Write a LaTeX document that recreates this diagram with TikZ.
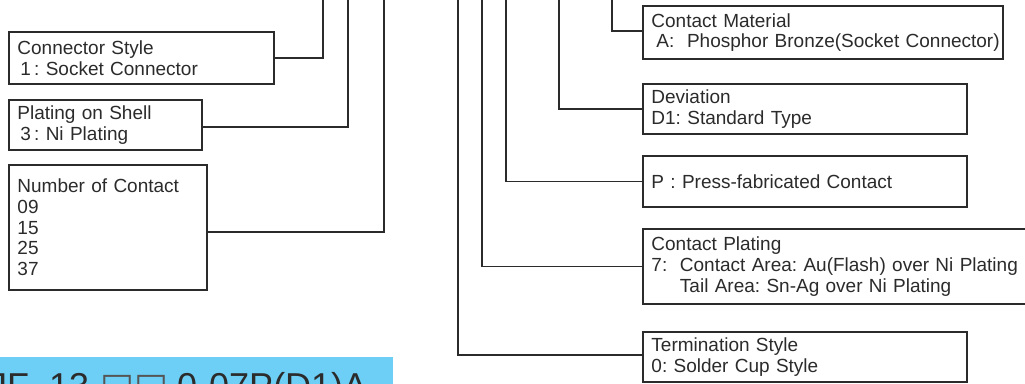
\documentclass[tikz,border=0pt]{standalone}
\usepackage{fontspec}
\setmainfont{Liberation Sans}
\newfontfamily\dejavu{DejaVu Sans}
\definecolor{ink}{HTML}{2B2B2B}
\definecolor{barblue}{HTML}{6DCFF6}
\frenchspacing
\begin{document}
\begin{tikzpicture}[x=1pt,y=-1pt,
  box/.style={draw=ink, line width=1.9pt, text=ink, anchor=north west,
    inner xsep=8.5pt, inner ysep=0pt, align=left,
    font=\fontsize{19}{20.7}\selectfont},
  link/.style={draw=ink, line width=1.9pt},
  pn/.style={anchor=base west, inner sep=0pt, text=ink, font=\fontsize{36}{40}\selectfont},
]
\useasboundingbox (0,0) rectangle (1025,383);

% left boxes
\node[box, text width=248pt, minimum height=52pt] (cs) at (8,31)
  {Connector Style\\\hspace{3pt}1\,: Socket Connector};
\node[box, text width=176pt, minimum height=50pt] (ps) at (8,99)
  {Plating on Shell\\\hspace{3pt}3\,: Ni Plating};
\node[box, text width=181pt, minimum height=125pt] (nc) at (8,164)
  {Number of Contact\\09\\15\\25\\37};

% right boxes
\node[box, text width=343pt, minimum height=53pt] (cm) at (642,5)
  {Contact Material\\\mbox{\hspace{5pt}A:\ \ Phosphor Bronze(Socket Connector)}};
\node[box, text width=307pt, minimum height=50pt] (dv) at (642,83)
  {Deviation\\D1: Standard Type};
\node[box, text width=307pt, minimum height=51pt] (pf) at (642,155)
  {P\ :\ Press-fabricated Contact};
\node[box, text width=383pt, minimum height=75pt] (cp) at (642,228)
  {Contact Plating\\\mbox{7:\ \ Contact Area: Au(Flash) over Ni Plating}\\\mbox{\phantom{7:\ \ }Tail Area: Sn-Ag over Ni Plating}};
\node[box, text width=307pt, minimum height=50pt] (ts) at (642,331)
  {Termination Style\\0: Solder Cup Style};

% top ends of the leaders
\coordinate (tcs) at (323,-2);
\coordinate (tps) at (348,-2);
\coordinate (tnc) at (384,-2);
\coordinate (tts) at (458,-2);
\coordinate (tcp) at (482,-2);
\coordinate (tpf) at (506,-2);
\coordinate (tdv) at (559,-2);
\coordinate (tcm) at (612,-2);

\draw[link] (cs.east) -| (tcs);
\draw[link] ([yshift=-2pt]ps.east) -| (tps);
\draw[link] ([yshift=-4.5pt]nc.east) -| (tnc);
\draw[link] ([yshift=1.5pt]cm.west) -| (tcm);
\draw[link] (dv.west) -| (tdv);
\draw[link] (pf.west) -| (tpf);
\draw[link] (cp.west) -| (tcp);
\draw[link] ([yshift=2pt]ts.west) -| (tts);

% part number bar
\fill[barblue] (0,357) rectangle (393,400);
\node[pn] (pa) at (-11,398) {JF-};
\node[pn] (pb) at (49,398) {13};
\node[pn, font=\dejavu\fontsize{36}{40}\selectfont, text=ink!80] (pc) at (100,398) {□□};
\node[pn] (pd) at (177,398) {0-07P(D1)A};
\end{tikzpicture}
\end{document}
